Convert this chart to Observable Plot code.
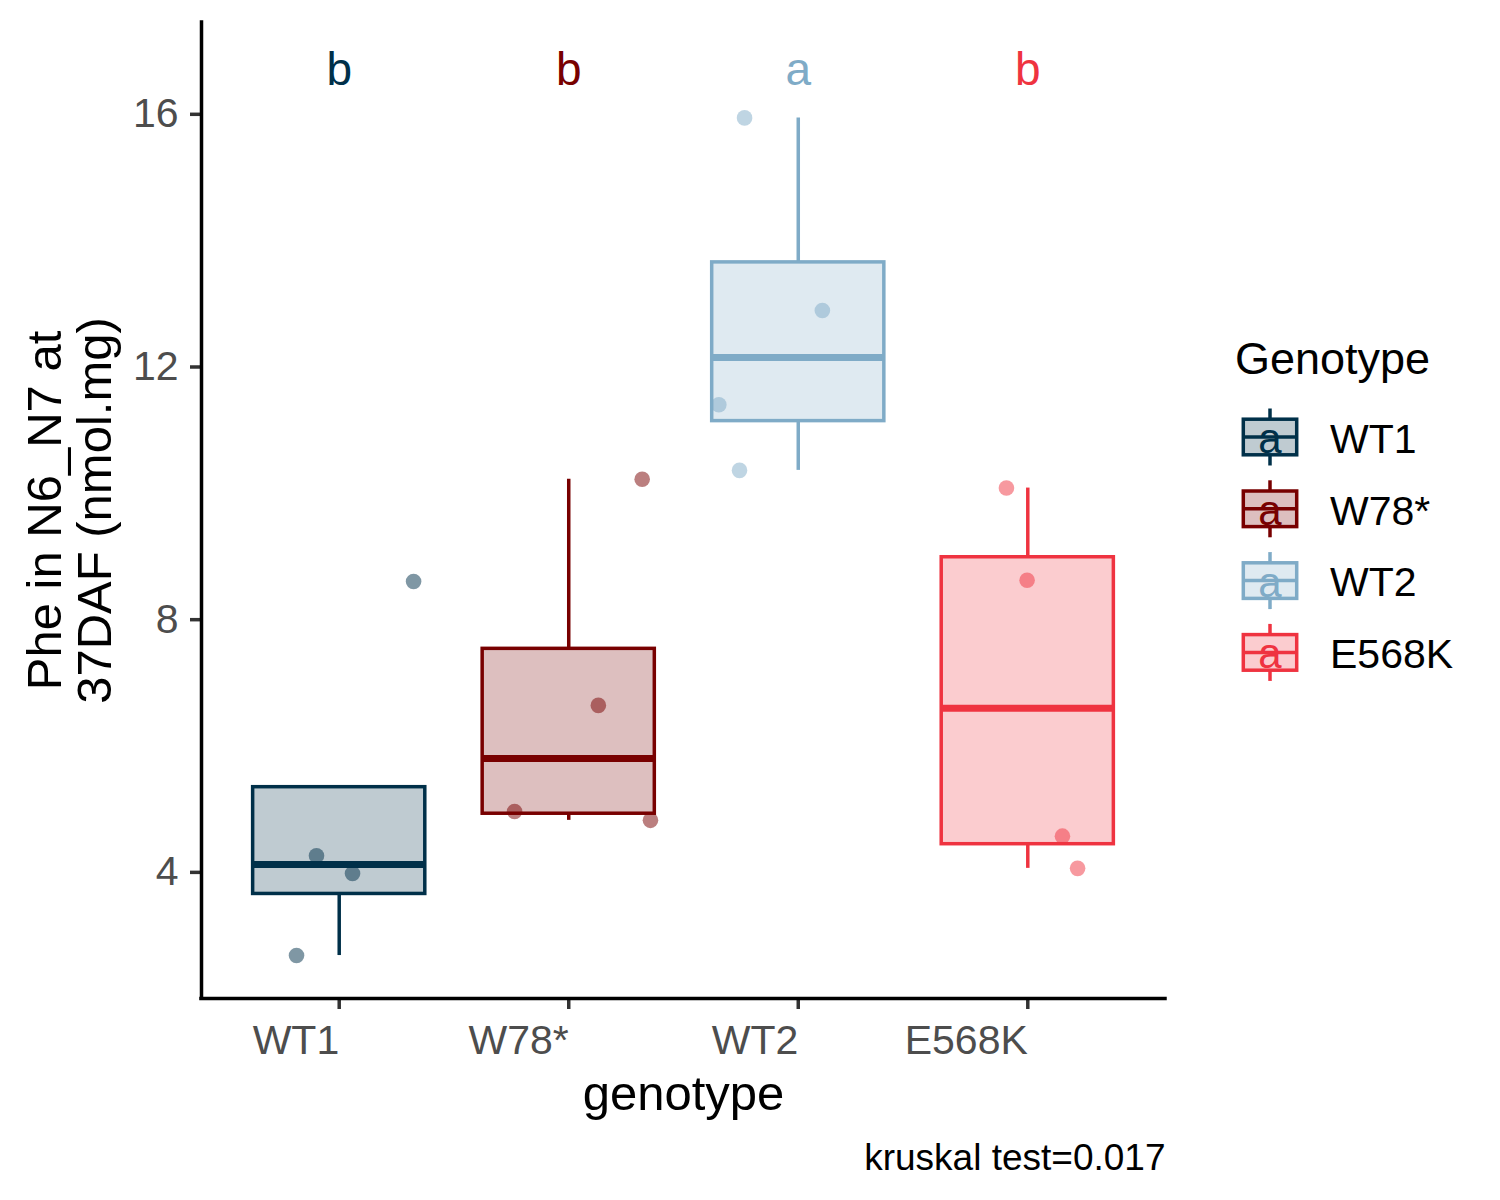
<!DOCTYPE html>
<html>
<head>
<meta charset="utf-8">
<script src="https://cdn.jsdelivr.net/npm/d3@7"></script>
<script src="https://cdn.jsdelivr.net/npm/@observablehq/plot@0.6"></script>
<style>
  html, body { margin: 0; padding: 0; background: #ffffff; }
  #chart { position: relative; width: 1500px; height: 1200px; }
</style>
</head>
<body>
<div id="chart"></div>
<script>
// ---- data ----
const genotypes = ["WT1", "W78*", "WT2", "E568K"];
const colors = ["#003049", "#780000", "#7FABC7", "#EF3340"];
const letters = ["b", "b", "a", "b"];
const wt1 = [2.62, 4.20, 3.92, 8.54];
const w78 = [4.90, 6.58, 10.16, 4.76];
const wt2 = [15.88, 12.83, 11.34, 10.30];
const e568k = [10.02, 8.56, 4.51, 4.00];
// horizontal jitter of each point (fraction of a category step)
const wt1Jitter = [-0.186, -0.099, 0.058, 0.324];
const w78Jitter = [-0.236, 0.129, 0.320, 0.356];
const wt2Jitter = [-0.234, 0.105, -0.346, -0.256];
const e568kJitter = [-0.093, -0.003, 0.151, 0.217];
const yTicks = [4, 8, 12, 16];
const yTitle = "Phe in N6_N7 at\n37DAF (nmol.mg)";
const xTitle = "genotype";
const legendTitle = "Genotype";
const caption = "kruskal test=0.017";

// ---- build tables ----
const groups = [wt1, w78, wt2, e568k];
const jitters = [wt1Jitter, w78Jitter, wt2Jitter, e568kJitter];
const points = [];
groups.forEach((vals, gi) => vals.forEach((v, k) => points.push({
  genotype: genotypes[gi], pos: gi + 1, jit: jitters[gi][k], value: v
})));
const letterY = d3.max(points, d => d.value) * 1.05;
const stats = groups.map((vals, gi) => {
  const s = vals.slice().sort(d3.ascending);
  const q1 = d3.quantile(s, 0.25), med = d3.quantile(s, 0.5), q3 = d3.quantile(s, 0.75);
  const iqr = q3 - q1;
  const hi = d3.max(s.filter(v => v <= q3 + 1.5 * iqr));
  const lo = d3.min(s.filter(v => v >= q1 - 1.5 * iqr));
  return {genotype: genotypes[gi], pos: gi + 1, q1, med, q3, hi: Math.max(hi, q3), lo: Math.min(lo, q1), letter: letters[gi], ly: letterY};
});

const font = "'Liberation Sans', Arial, sans-serif";
const halfBox = 0.375;
const xDomain = [0.4, 4.6];
const yDomain = [1.94, 17.39];

const plot = Plot.plot({
  width: 1500,
  height: 1200,
  marginLeft: 201,
  marginRight: 335,
  marginTop: 22,
  marginBottom: 202,
  style: {fontFamily: font, background: "white", overflow: "visible"},
  x: {domain: xDomain},
  y: {domain: yDomain},
  color: {domain: genotypes, range: colors},
  marks: [
    Plot.dot(points, {x: d => d.pos + d.jit, y: "value", r: 7.8, fill: "genotype", fillOpacity: 0.5}),
    Plot.ruleX(stats, {x: "pos", y1: "q3", y2: "hi", stroke: "genotype", strokeWidth: 3.5}),
    Plot.ruleX(stats, {x: "pos", y1: "lo", y2: "q1", stroke: "genotype", strokeWidth: 3.5}),
    Plot.rect(stats, {x1: d => d.pos - halfBox, x2: d => d.pos + halfBox, y1: "q1", y2: "q3",
      fill: "genotype", fillOpacity: 0.25, stroke: "genotype", strokeWidth: 3.5}),
    Plot.ruleY(stats, {y: "med", x1: d => d.pos - halfBox, x2: d => d.pos + halfBox, stroke: "genotype", strokeWidth: 7}),
    Plot.text(stats, {x: "pos", y: "ly", text: "letter", fill: "genotype", fontSize: 46, dy: 3}),
    Plot.axisX({ticks: [1, 2, 3, 4], tickFormat: i => genotypes[i - 1], tickSize: 11, tickPadding: 15,
      fontSize: 41, textAnchor: "end", stroke: "#333333", fill: "#4D4D4D", strokeWidth: 3.5, label: null}),
    Plot.axisY({ticks: yTicks, tickSize: 11, tickPadding: 12, fontSize: 41, dy: 4,
      stroke: "#333333", fill: "#4D4D4D", strokeWidth: 3.5, label: null}),
    Plot.ruleX([xDomain[0]], {stroke: "black", strokeWidth: 3.5, strokeLinecap: "square"}),
    Plot.ruleY([yDomain[0]], {stroke: "black", strokeWidth: 3.5, strokeLinecap: "square"}),
    Plot.text([xTitle], {frameAnchor: "bottom", textAnchor: "middle", lineAnchor: "middle", dy: 96, fontSize: 49, fill: "black"}),
    Plot.text([yTitle], {frameAnchor: "left", textAnchor: "middle", lineAnchor: "middle", rotate: -90, dx: -131.7, fontSize: 49, lineHeight: 50 / 49, fill: "black"}),
    Plot.text([caption], {frameAnchor: "bottom-right", textAnchor: "end", lineAnchor: "middle", dy: 160, fontSize: 37, fill: "black"})
  ]
});

// ---- legend (ggplot-style boxplot keys with text glyph) ----
const svg = d3.select(plot);
const lg = svg.append("g").attr("font-family", font).attr("text-anchor", "start");
lg.append("text").attr("x", 1235).attr("y", 374).attr("font-size", 45).attr("fill", "black")
  .attr("text-anchor", "start").text(legendTitle);
const keyCx = 1270, keyStep = 71.8, keyTop = 437;
genotypes.forEach((g, i) => {
  const cy = keyTop + i * keyStep;
  const c = colors[i];
  const k = lg.append("g");
  k.append("line").attr("x1", keyCx).attr("x2", keyCx).attr("y1", cy - 28.5).attr("y2", cy - 17.8)
    .attr("stroke", c).attr("stroke-width", 3.5);
  k.append("line").attr("x1", keyCx).attr("x2", keyCx).attr("y1", cy + 17.8).attr("y2", cy + 28.5)
    .attr("stroke", c).attr("stroke-width", 3.5);
  k.append("rect").attr("x", keyCx - 26.7).attr("y", cy - 17.8).attr("width", 53.4).attr("height", 35.6)
    .attr("fill", c).attr("fill-opacity", 0.25).attr("stroke", c).attr("stroke-width", 3.5);
  k.append("line").attr("x1", keyCx - 26.7).attr("x2", keyCx + 26.7).attr("y1", cy).attr("y2", cy)
    .attr("stroke", c).attr("stroke-width", 3.5);
  k.append("text").attr("x", keyCx).attr("y", cy + 16).attr("text-anchor", "middle")
    .attr("font-size", 42).attr("fill", c).text("a");
  lg.append("text").attr("x", 1330).attr("y", cy + 15.7).attr("font-size", 41).attr("fill", "black")
    .attr("text-anchor", "start").text(g);
});

document.getElementById("chart").appendChild(plot);
</script>
</body>
</html>
